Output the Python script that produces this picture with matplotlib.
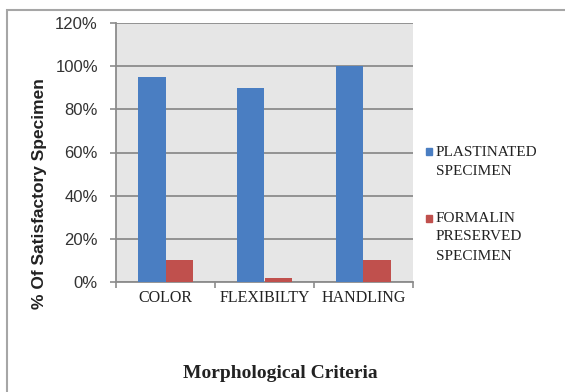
import matplotlib
matplotlib.use("Agg")
import matplotlib.pyplot as plt
from matplotlib.patches import Rectangle
from matplotlib.ticker import FuncFormatter

# satisfactory specimens per criterion (%)
criteria = ["COLOR", "FLEXIBILTY", "HANDLING"]
plastinated = [95, 90, 100]
formalin = [10, 2, 10]
series_names = ["PLASTINATED\nSPECIMEN", "FORMALIN\nPRESERVED\nSPECIMEN"]

blue = "#4a7ec2"
red = "#c0504d"
grid_col = "#8c8c8c"

W, H = 565, 392
fig = plt.figure(figsize=(W / 100, H / 100), dpi=100)
fig.patch.set_facecolor("white")
# outer chart frame
fig.patches.append(Rectangle((7 / W, -0.05), 1.2, 1 - 10 / H + 0.05,
                             transform=fig.transFigure, fill=False,
                             edgecolor="#a6a6a6", linewidth=1.5))

ax = fig.add_axes([116 / W, 1 - 282 / H, (413 - 116) / W, (282 - 23) / H])
ax.set_facecolor("#e6e6e6")

x = range(len(criteria))
w = 0.28
ax.bar([i - w / 2 for i in x], plastinated, w, color=blue, zorder=3)
ax.bar([i + w / 2 for i in x], formalin, w, color=red, zorder=3)

ax.set_xlim(-0.5, len(criteria) - 0.5)
ax.set_ylim(0, 120)
ax.set_yticks(range(0, 121, 20))
ax.yaxis.set_major_formatter(FuncFormatter(lambda v, p: "%d%%" % v))
ax.yaxis.grid(True, color=grid_col, linewidth=1.3, zorder=0)
ax.set_axisbelow(True)

ax.set_xticks([i for i in x])
ax.set_xticklabels(criteria, family="Liberation Serif", fontsize=11.5, color="#222222")
ax.set_xticks([i - 0.5 for i in range(len(criteria) + 1)], minor=True)
ax.tick_params(axis="x", which="major", length=0, pad=6)
ax.tick_params(axis="x", which="minor", length=4, color=grid_col, width=1.2)
ax.tick_params(axis="y", length=4, color=grid_col, width=1.2, pad=9,
               labelsize=12, labelcolor="#333333")
for lab in ax.get_yticklabels():
    lab.set_family("Liberation Sans")

for s in ["top", "right"]:
    ax.spines[s].set_visible(False)
for s in ["left", "bottom"]:
    ax.spines[s].set_color(grid_col)
    ax.spines[s].set_linewidth(1.3)

fig.text(40 / W, 1 - 194 / H, "% Of Satisfactory Specimen", rotation=90,
         ha="center", va="center", fontsize=12.5, fontweight="bold",
         family="Liberation Sans", color="#222222")
fig.text(280 / W, 1 - 373 / H, "Morphological Criteria", ha="center",
         va="center", fontsize=14, fontweight="bold", family="Liberation Serif",
         color="#222222")

# legend: square key next to the first line of each label
for name, col, top in zip(series_names, [blue, red], [152, 218]):
    fig.patches.append(Rectangle((426 / W, 1 - (top + 3.5) / H), 6 / W, 7 / H,
                                 transform=fig.transFigure, color=col))
    for k, line in enumerate(name.split("\n")):
        fig.text(436 / W, 1 - (top + 19 * k) / H, line, ha="left", va="center",
                 fontsize=11, family="Liberation Serif", color="#222222")

fig.savefig("out.png", dpi=100)
